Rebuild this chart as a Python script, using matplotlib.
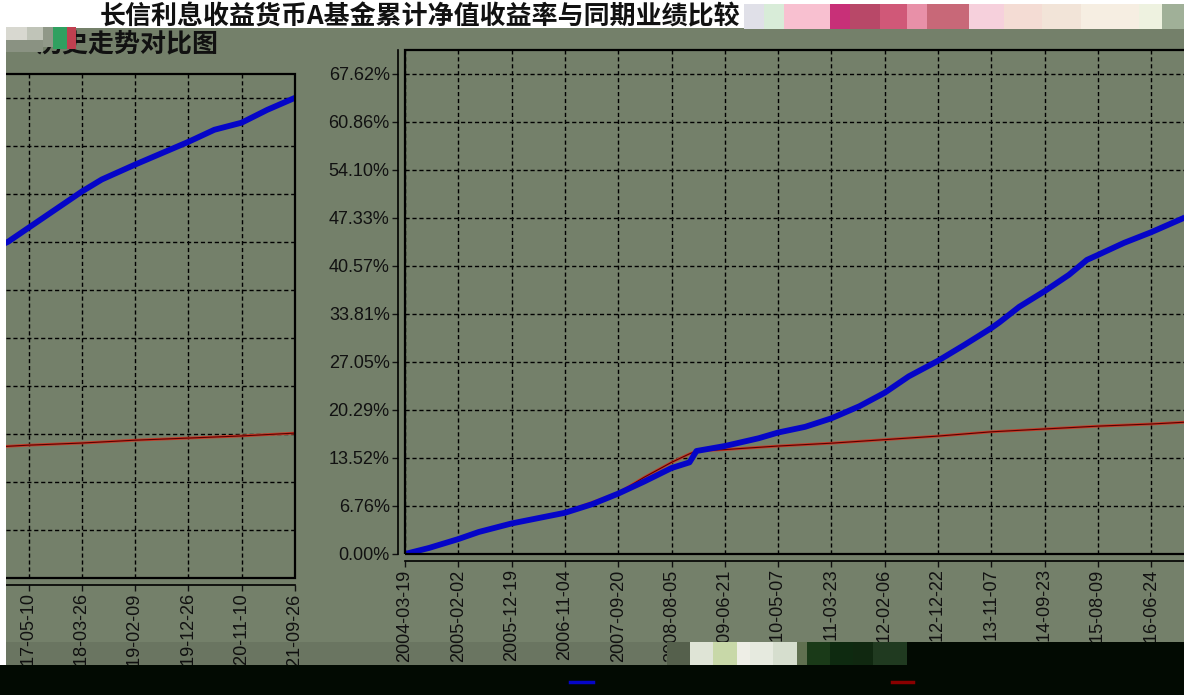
import pandas as pd
import matplotlib
matplotlib.use('Agg')
from matplotlib import pyplot as plt
from matplotlib.patches import Rectangle
from matplotlib.lines import Line2D

plt.rcParams['font.family'] = ['Liberation Sans', 'Noto Sans CJK SC', 'DejaVu Sans']

W, H = 1184, 695

# 基金累计净值收益率 (%)
fund_dates = ['2004-03-19', '2004-08-10', '2005-02-02', '2005-06-05', '2005-12-19',
              '2006-11-04', '2007-04-15', '2007-09-20', '2008-02-23', '2008-08-05',
              '2008-11-21', '2009-01-02', '2009-06-21', '2010-01-11', '2010-05-07',
              '2010-10-16', '2011-03-23', '2011-09-07', '2012-02-06', '2012-06-29',
              '2012-12-22', '2013-05-27', '2013-11-07', '2013-12-25', '2014-04-24',
              '2014-09-23', '2015-02-16', '2015-06-04', '2015-08-09', '2016-01-13',
              '2016-06-24', '2017-01-05', '2017-05-10', '2018-03-26', '2018-07-24',
              '2019-02-09', '2019-12-26', '2020-05-30', '2020-11-10', '2021-04-12',
              '2021-09-26']
fund_vals = [0.0, 0.85, 2.1, 3.1, 4.3,
             5.8, 7.0, 8.5, 10.2, 12.1,
             12.9, 14.5, 15.2, 16.3, 17.1,
             17.9, 19.1, 20.8, 22.7, 25.0,
             27.2, 29.4, 31.8, 32.6, 34.8,
             37.0, 39.3, 41.4, 42.1, 43.8,
             45.3, 47.3, 49.3, 54.4, 56.1,
             58.2, 61.4, 63.1, 64.1, 65.9,
             67.6]

# 业绩比较基准收益率 (%)
bench_dates = ['2004-03-19', '2005-02-02', '2005-12-19', '2006-11-04', '2007-09-20',
               '2008-02-23', '2008-08-05', '2008-11-21', '2009-01-02', '2009-06-21',
               '2010-05-07', '2011-03-23', '2012-02-06', '2012-12-22', '2013-11-07',
               '2014-09-23', '2015-08-09', '2016-06-24', '2017-05-10', '2018-03-26',
               '2019-02-09', '2019-12-26', '2020-11-10', '2021-09-26']
bench_vals = [0.0, 2.2, 4.4, 5.9, 8.6,
              10.8, 12.9, 14.1, 14.5, 14.7,
              15.2, 15.6, 16.1, 16.6, 17.2,
              17.6, 18.0, 18.3, 18.7, 19.0,
              19.4, 19.7, 20.0, 20.4]

tick_labels = ['2004-03-19', '2005-02-02', '2005-12-19', '2006-11-04', '2007-09-20',
               '2008-08-05', '2009-06-21', '2010-05-07', '2011-03-23', '2012-02-06',
               '2012-12-22', '2013-11-07', '2014-09-23', '2015-08-09', '2016-06-24',
               '2017-05-10', '2018-03-26', '2019-02-09', '2019-12-26', '2020-11-10',
               '2021-09-26']
y_ticks = [0.00, 6.76, 13.52, 20.29, 27.05, 33.81, 40.57, 47.33, 54.10, 60.86, 67.62]

title_1 = '长信利息收益货币A基金累计净值收益率与同期业绩比较'
title_2 = '历史走势对比图'

BG = '#74806a'
CJK = ['Noto Sans CJK SC', 'DejaVu Sans']


def box(x0, x1, y_top, y_bot):
    # 像素 -> figure 坐标
    return [x0 / W, 1 - y_bot / H, (x1 - x0) / W, (y_bot - y_top) / H]


def rect(fig, x, y, w, h, color, z=5, alpha=1.0):
    fig.patches.append(Rectangle((x / W, 1 - (y + h) / H), w / W, h / H,
                                 transform=fig.transFigure, fc=color, ec='none',
                                 zorder=z, alpha=alpha))


def draw_panel(ax, fd, fv, bd, bv, ticks):
    ax.set_facecolor(BG)
    ax.plot(bd, bv, color='#c83c28', lw=2.0, zorder=2)
    ax.plot(bd, bv, color='#5a0000', lw=0.8, zorder=2)
    ax.plot(fd, fv, color='#0505c8', lw=4.2, zorder=3, solid_capstyle='butt')
    ax.set_xlim(ticks[0], ticks[-1])
    ax.set_ylim(0, 70.95)
    ax.set_xticks(ticks)
    ax.set_xticklabels(tick_labels)
    ax.set_yticks(y_ticks)
    ax.set_yticklabels(['%.2f%%' % v for v in y_ticks])
    ax.set_axisbelow(True)
    ax.grid(True, color='black', linestyle=(0, (3, 2)), lw=1.0)
    for s in ['top', 'right']:
        ax.spines[s].set_visible(False)
    for s in ['left', 'bottom']:
        ax.spines[s].set_position(('outward', 5))
        ax.spines[s].set_linewidth(1.2)
    ax.tick_params(direction='out', length=4, width=1, labelsize=13, pad=2,
                   colors='#111111')
    ax.tick_params(axis='x', labelrotation=90)
    ax.add_patch(Rectangle((0, 0), 1, 1, transform=ax.transAxes, fill=False,
                           ec='black', lw=1.6, zorder=4, clip_on=False))


fd = pd.to_datetime(fund_dates)
bd = pd.to_datetime(bench_dates)
ticks = pd.to_datetime(tick_labels)

fig = plt.figure(figsize=(W / 100, H / 100), dpi=100, facecolor=BG)

# 右半部分 (2004 起)
ax_r = fig.add_axes(box(405, 1471, 50, 554))
draw_panel(ax_r, fd, fund_vals, bd, bench_vals, ticks)
# 左半部分 (错位的 2017 之后)
ax_l = fig.add_axes(box(-771, 295, 74, 578))
draw_panel(ax_l, fd, fund_vals, bd, bench_vals, ticks)

# 顶部白底标题
rect(fig, 0, 0, W, 28, 'white', z=5)
fig.text(100 / W, 1 - 17 / H, title_1, family=CJK, fontsize=18.7, weight='bold',
         va='center', ha='left', color='#111111', zorder=6)
rect(fig, 6, 28, W - 6, 4, BG, z=7)
fig.text(36 / W, 1 - 44 / H, title_2, family=CJK, fontsize=18.7, weight='bold',
         va='center', ha='left', color='#111111', zorder=8)

# 左侧白条
rect(fig, 0, 0, 6, 665, 'white', z=5)

# 图像错位色块 (顶部)
top_glitch = [(744, 764, '#e0e0e8'), (764, 784, '#d8ecd8'), (784, 830, '#f8c0d0'),
              (830, 850, '#c83078'), (850, 880, '#b84868'), (880, 907, '#d05878'),
              (907, 927, '#e890a8'), (927, 969, '#c86878'), (969, 1004, '#f6d0dc'),
              (1004, 1042, '#f4dcd4'), (1042, 1081, '#f2e4d8'), (1081, 1139, '#f6eee2'),
              (1139, 1162, '#eef2e0'), (1162, 1184, '#a0b098')]
for x0, x1, c in top_glitch:
    rect(fig, x0, 4, x1 - x0, 25, c, z=9)

left_glitch = [(6, 27, 27, 13, '#d8d8d0'), (27, 43, 27, 13, '#c0c4b8'),
               (43, 53, 27, 20, '#909888'), (53, 67, 27, 22, '#30a060'),
               (67, 76, 27, 22, '#c04050'), (6, 43, 40, 12, '#8a9282')]
for x0, x1, y0, h, c in left_glitch:
    rect(fig, x0, y0, x1 - x0, h, c, z=9)

# 底部黑带
rect(fig, 6, 642, 662, 23, 'black', z=10, alpha=0.08)
rect(fig, 0, 665, 668, 30, '#020a02', z=10)
rect(fig, 668, 642, W - 668, 53, '#020a02', z=10)
bottom_glitch = [(667, 690, '#55604c'), (690, 713, '#dfe4d6'), (713, 737, '#c8d8a8'),
                 (737, 750, '#eeeee6'), (750, 773, '#e6eadf'), (773, 797, '#d6dece'),
                 (797, 807, '#607050'), (807, 830, '#1a3a18'), (830, 853, '#0e2a10'),
                 (853, 873, '#102810'), (873, 907, '#203a20')]
for x0, x1, c in bottom_glitch:
    rect(fig, x0, 642, x1 - x0, 23, c, z=11)

# 图例标记
fig.add_artist(Line2D([570 / W, 593 / W], [1 - 682 / H] * 2, color='#0505c8', lw=2.5,
                      zorder=12))
fig.add_artist(Line2D([892 / W, 913 / W], [1 - 682 / H] * 2, color='#8a0000', lw=2.5,
                      zorder=12))

fig.savefig('out.png', dpi=100, facecolor=BG)
